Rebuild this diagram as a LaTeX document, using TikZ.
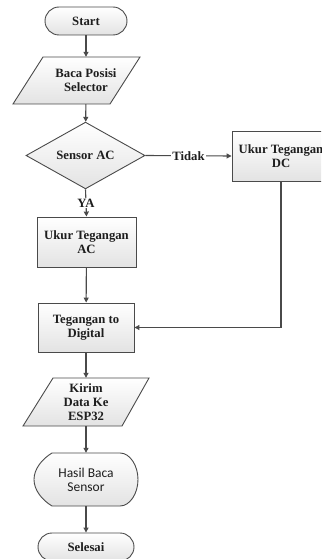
\documentclass[tikz,border=0pt]{standalone}
\usepackage{fontspec}
\setmainfont{Liberation Serif}
\newfontfamily\calfont{Carlito}
\usetikzlibrary{arrows.meta,shapes.geometric,calc}
\definecolor{lineC}{HTML}{4A4A4A}
\definecolor{txtC}{HTML}{1E1E1E}
\tikzset{
  shapefill/.style={draw=lineC,line width=0.9pt,top color=white,bottom color=gray!22},
  lbl/.style={font=\fontsize{12.7}{14.3}\selectfont\bfseries,text=txtC,align=center,inner sep=0pt},
  procbox/.style={shapefill,lbl,rectangle},
  termbox/.style={shapefill,lbl,rectangle,rounded corners=14pt},
  textonly/.style={lbl,rectangle},
  decbox/.style={shapefill,lbl,diamond,inner sep=0pt},
  conn/.style={draw=lineC,line width=1.1pt,-{Triangle[length=5pt,width=5pt]}},
  onlinelbl/.style={lbl,fill=white,inner sep=1pt}
}
\begin{document}
\begin{tikzpicture}[x=1pt,y=-1pt]
\useasboundingbox (0,0) rectangle (321,559);
\clip (0,0) rectangle (321,559);
% Start
\node[termbox,minimum width=82pt,minimum height=28pt] (start) at (86,21) {Start};
% Baca Posisi Selector (parallelogram)
\draw[shapefill] (43,57) -- (140,57) -- (110,104) -- (13,104) -- cycle;
\node[textonly,minimum width=60pt,minimum height=47pt] (read) at (86,80.5) {Baca Posisi\\Selector};
% Decision
\node[decbox,minimum width=119pt,minimum height=55pt] (dec) at (85.5,155.5) {Sensor AC};
% DC box
\node[procbox,minimum width=98pt,minimum height=50pt] (dc) at (281,156) {Ukur Tegangan\\DC};
% AC box
\node[procbox,minimum width=99pt,minimum height=50pt] (ac) at (86.5,242) {Ukur Tegangan\\AC};
% Digital
\node[procbox,minimum width=96pt,minimum height=49pt] (dig) at (86,327.5) {Tegangan to\\Digital};
% Kirim (parallelogram)
\draw[shapefill] (53,378) -- (149,378) -- (122,426) -- (23,426) -- cycle;
\node[textonly,minimum width=50pt,minimum height=48pt] (kirim) at (86,402) {Kirim\\Data Ke\\ESP32};
% Hasil Baca Sensor (display)
\draw[shapefill] (52,453) -- (120,453)
  .. controls (130,453) and (138,465.6) .. (138,479.5)
  .. controls (138,493.4) and (130,506) .. (120,506)
  -- (52,506) .. controls (42,500) and (34,490) .. (34,479.5)
  .. controls (34,469) and (42,459) .. (52,453) -- cycle;
\node[textonly,font=\calfont\fontsize{13.5}{14}\selectfont,minimum width=60pt,minimum height=53pt] (hasil) at (86,479.5) {Hasil Baca\\Sensor};
% Selesai
\node[termbox,minimum width=96pt,minimum height=28pt] (end) at (86,547) {Selesai};
% connectors
\draw[conn] (start) -- (read);
\draw[conn] (read) -- (dec);
\draw[conn] (dec.east) -- node[onlinelbl] {Tidak} (dc.west);
\draw[conn] (dec.south) -- node[onlinelbl,pos=0.5] {YA} (ac.north);
\draw[conn] (ac) -- (dig);
\draw[conn] (dc.south) |- (dig.east);
\draw[conn] (dig) -- (kirim);
\draw[conn] (kirim) -- (hasil);
\draw[conn] (hasil) -- (end);
\end{tikzpicture}
\end{document}
